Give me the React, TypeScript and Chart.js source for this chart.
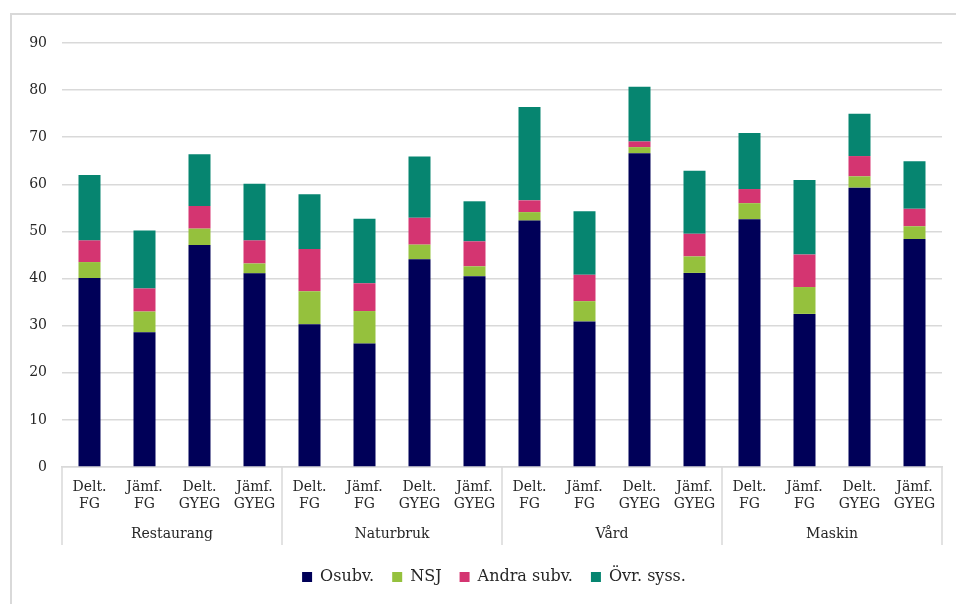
import React, { useEffect, useRef } from "react";
import { Chart, registerables } from "chart.js";

Chart.register(...registerables);

const groups = ["Restaurang", "Naturbruk", "Vård", "Maskin"];
const subLabels = [
  ["Delt.", "FG"],
  ["Jämf.", "FG"],
  ["Delt.", "GYEG"],
  ["Jämf.", "GYEG"],
];
const categories = groups.flatMap(() => subLabels);

const osubv = [40.1, 28.6, 47.1, 41.1, 30.3, 26.2, 44.1, 40.5, 52.3, 30.9, 66.6, 41.2, 52.6, 32.5, 59.3, 48.4];
const nsj = [3.4, 4.4, 3.5, 2.1, 7.0, 6.9, 3.1, 2.1, 1.8, 4.3, 1.3, 3.5, 3.4, 5.7, 2.4, 2.7];
const andra = [4.6, 4.9, 4.8, 4.9, 9.0, 5.9, 5.7, 5.3, 2.5, 5.6, 1.2, 4.8, 3.0, 6.9, 4.3, 3.7];
const ovr = [13.9, 12.3, 11.0, 12.0, 11.6, 13.7, 13.0, 8.5, 19.8, 13.5, 11.6, 13.4, 11.9, 15.8, 9.0, 10.1];

const seriesNames = ["Osubv.", "NSJ", "Andra subv.", "Övr. syss."];
const seriesColors = ["#000058", "#95C13D", "#D43571", "#068570"];

const FONT = "'DejaVu Serif', serif";
const TEXT = "#262626";
const GRID = "#d9d9d9";

const legendShift = {
  id: "legendShift",
  afterLayout(chart: any) {
    const lg = chart.legend;
    if (lg) {
      lg.left += 23;
      lg.right += 23;
    }
  },
};

const groupPlugin = {
  id: "groupLabels",
  afterDraw(chart: any) {
    const x = chart.scales.x;
    const area = chart.chartArea;
    const ctx = chart.ctx;
    const step = x.getPixelForValue(1) - x.getPixelForValue(0);
    const n = subLabels.length;
    ctx.save();
    ctx.strokeStyle = GRID;
    ctx.lineWidth = 1.5;
    for (let g = 0; g <= groups.length; g++) {
      const px = x.getPixelForValue(g * n) - step / 2;
      ctx.beginPath();
      ctx.moveTo(px, area.bottom);
      ctx.lineTo(px, area.bottom + 78);
      ctx.stroke();
    }
    ctx.fillStyle = TEXT;
    ctx.font = `14px ${FONT}`;
    ctx.textAlign = "center";
    ctx.textBaseline = "middle";
    groups.forEach((name, g) => {
      const left = x.getPixelForValue(g * n) - step / 2;
      const right = x.getPixelForValue(g * n + n - 1) + step / 2;
      ctx.fillText(name, (left + right) / 2, area.bottom + 67);
    });
    ctx.restore();
  },
};

export default function App() {
  const ref = useRef<HTMLCanvasElement>(null);
  useEffect(() => {
    if (!ref.current) return;
    const chart = new Chart(ref.current, {
      type: "bar",
      data: {
        labels: categories,
        datasets: [osubv, nsj, andra, ovr].map((d, i) => ({
          label: seriesNames[i],
          data: d,
          backgroundColor: seriesColors[i],
          borderWidth: 0,
          barPercentage: 0.4,
          categoryPercentage: 1,
        })),
      },
      options: {
        responsive: false,
        animation: false,
        devicePixelRatio: 1,
        layout: { padding: { left: 0, right: 14, top: 43, bottom: 9 } },
        plugins: {
          tooltip: { enabled: false },
          legend: {
            position: "bottom",
            labels: {
              boxWidth: 10,
              boxHeight: 10,
              padding: 18,
              color: TEXT,
              font: { family: FONT, size: 16 },
            },
          },
        },
        scales: {
          x: {
            stacked: true,
            grid: { display: false, drawTicks: false },
            border: { display: true, color: GRID, width: 1.5 },
            ticks: {
              color: TEXT,
              font: { family: FONT, size: 14 },
              padding: 12,
              maxRotation: 0,
              autoSkip: false,
            },
            afterFit: (s: any) => {
              s.height = 84;
            },
          },
          y: {
            stacked: true,
            min: 0,
            max: 90,
            grid: { color: GRID, lineWidth: 1.5, drawTicks: false },
            border: { display: false },
            ticks: {
              stepSize: 10,
              color: TEXT,
              font: { family: FONT, size: 14 },
              padding: 15,
            },
            afterFit: (s: any) => {
              s.width = 62;
            },
          },
        },
      },
      plugins: [legendShift, groupPlugin],
    });
    return () => chart.destroy();
  }, []);

  return (
    <div style={{ position: "fixed", left: 0, top: 0, width: 956, height: 604, background: "#fff", overflow: "hidden" }}>
      <div
        style={{
          position: "absolute",
          left: 10,
          top: 13,
          width: 950,
          height: 600,
          borderTop: `2px solid ${GRID}`,
          borderLeft: `2px solid ${GRID}`,
        }}
      />
      <canvas ref={ref} width={956} height={604} style={{ position: "absolute", left: 0, top: 0, display: "block" }} />
    </div>
  );
}
